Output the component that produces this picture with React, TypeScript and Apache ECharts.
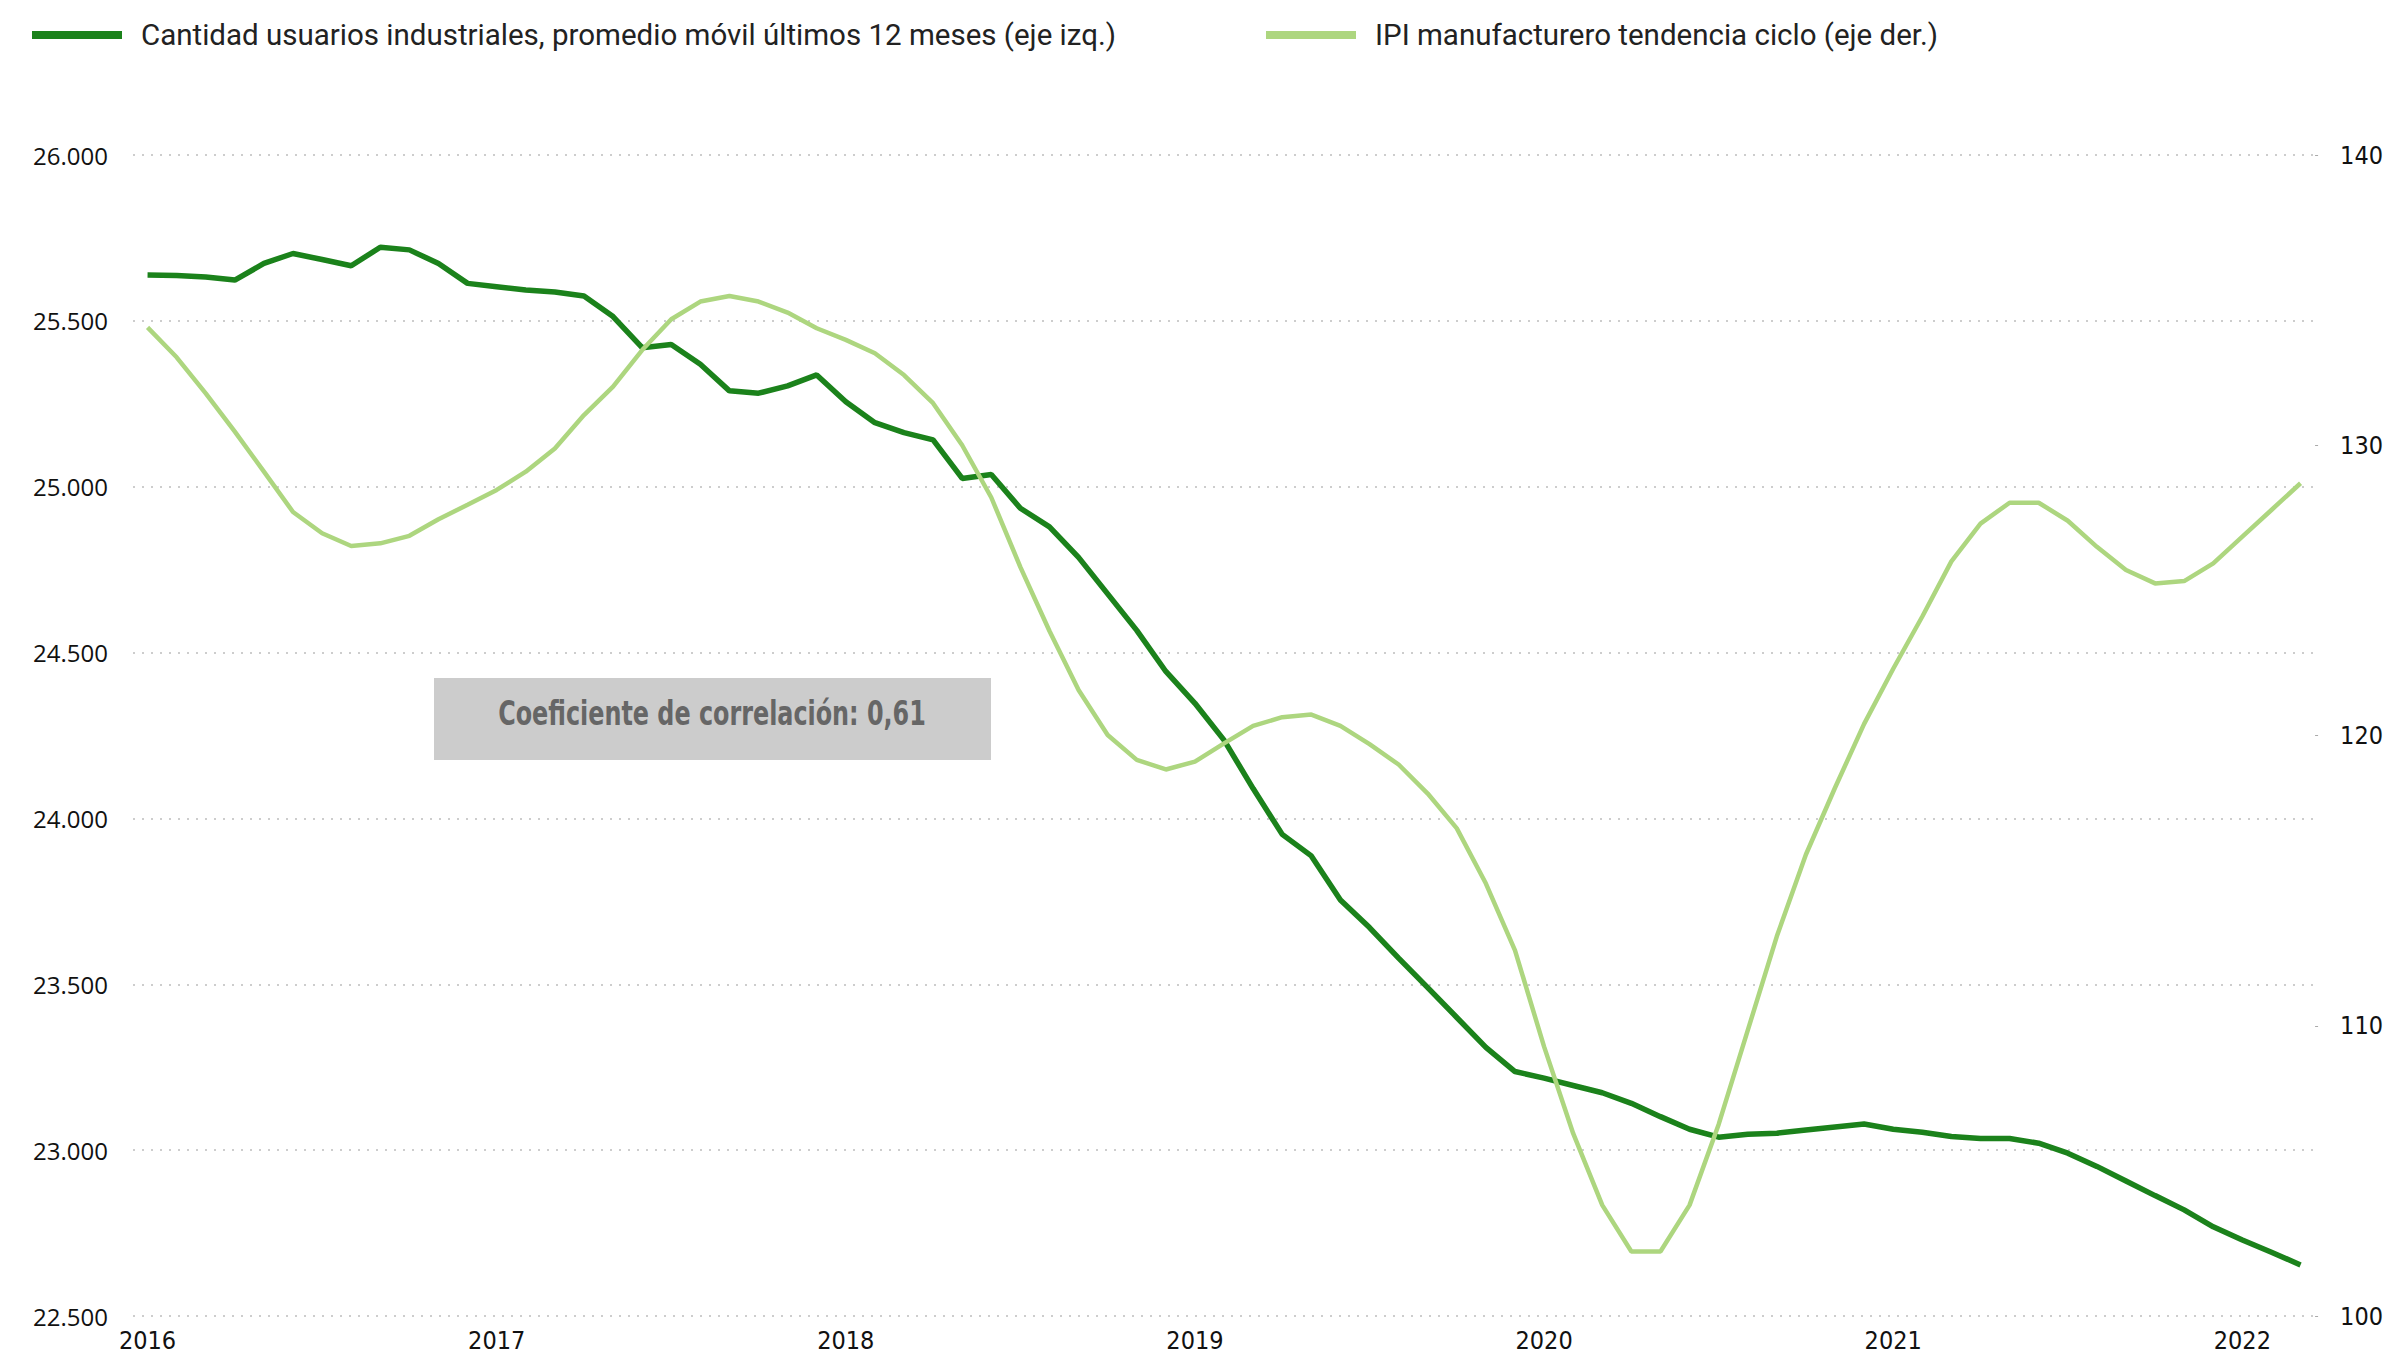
import React, { useEffect, useRef } from "react";
import * as echarts from "echarts";

const years = ["2016", "2017", "2018", "2019", "2020", "2021", "2022"];
const monthCount = 75;
const categories: string[] = [];
for (let i = 0; i < monthCount; i++) {
  const y = years[Math.floor(i / 12)];
  const m = (i % 12) + 1;
  categories.push(`${y}-${m < 10 ? "0" + m : m}`);
}

const seriesNames = [
  "Cantidad usuarios industriales, promedio móvil últimos 12 meses (eje izq.)",
  "IPI manufacturero tendencia ciclo (eje der.)",
];

const usuarios = [
  25638, 25637, 25632, 25623, 25673, 25703, 25685, 25666, 25722, 25714, 25673, 25613,
  25603, 25593, 25587, 25575, 25513, 25419, 25429, 25369, 25289, 25282, 25304, 25337,
  25256, 25193, 25163, 25141, 25025, 25037, 24935, 24879, 24787, 24677, 24567, 24443,
  24347, 24236, 24090, 23952, 23887, 23754, 23671, 23579, 23490, 23400, 23310, 23237,
  23217, 23195, 23173, 23141, 23101, 23063, 23039, 23048, 23051, 23061, 23070, 23079,
  23063, 23054, 23041, 23035, 23035, 23021, 22991, 22951, 22907, 22863, 22820, 22769,
  22729, 22692, 22654,
];

const ipi = [
  134.06, 133.03, 131.79, 130.47, 129.09, 127.7, 126.97, 126.53, 126.62, 126.88, 127.45, 127.95,
  128.46, 129.09, 129.89, 131.04, 132.02, 133.28, 134.34, 134.95, 135.14, 134.95, 134.57, 134.03,
  133.63, 133.17, 132.42, 131.45, 130.0, 128.2, 125.8, 123.6, 121.57, 120.02, 119.16, 118.83,
  119.1, 119.73, 120.33, 120.63, 120.72, 120.33, 119.7, 119.0, 118.0, 116.8, 114.9, 112.6,
  109.28, 106.29, 103.82, 102.22, 102.22, 103.82, 106.6, 109.84, 113.08, 115.9, 118.2, 120.4,
  122.3, 124.1, 126.0, 127.3, 128.02, 128.02, 127.4, 126.5, 125.7, 125.24, 125.32, 125.93,
  126.85, 127.77, 128.69,
];

const correlationText = "Coeficiente de correlación: 0,61";

const DARK = "#1B821B";
const LIGHT = "#ADD67F";
const NARROW = "'Liberation Sans Narrow', 'DejaVu Sans Condensed', Roboto, sans-serif";

function formatThousands(v: number) {
  return String(Math.round(v)).replace(/\B(?=(\d{3})+(?!\d))/g, ".");
}

export default function App() {
  const ref = useRef<HTMLDivElement>(null);
  useEffect(() => {
    if (!ref.current) return;
    const chart = echarts.init(ref.current, null, { renderer: "svg" });
    chart.setOption({
      animation: false,
      backgroundColor: "#ffffff",
      legend: {
        left: 27,
        top: 15,
        icon: "rect",
        itemWidth: 90,
        itemHeight: 8,
        itemGap: 150,
        data: seriesNames,
        textStyle: {
          fontFamily: "Roboto, sans-serif",
          fontSize: 29.5,
          color: "#222222",
          padding: [0, 0, 0, 14],
        },
      },
      grid: { left: 133, right: 67, top: 155, bottom: 39 },
      xAxis: {
        type: "category",
        data: categories,
        boundaryGap: true,
        axisLine: { show: false },
        axisTick: { show: false },
        splitLine: { show: false },
        axisLabel: {
          interval: (idx: number) => idx % 12 === 0,
          formatter: (v: string) => v.slice(0, 4),
          fontFamily: NARROW,
          fontSize: 25,
          lineHeight: 26,
          color: "#111111",
          margin: 11,
        },
      },
      yAxis: [
        {
          type: "value",
          min: 22500,
          max: 26000,
          interval: 500,
          position: "left",
          axisLine: { show: false },
          axisTick: { show: false },
          axisLabel: {
            formatter: (v: number) => formatThousands(v),
            fontFamily: "'Open Sans', sans-serif",
            fontSize: 24,
            color: "#111111",
            margin: 25,
          },
          splitLine: {
            show: true,
            lineStyle: { color: "#bdbdbd", width: 1.5, type: [2, 7] },
          },
        },
        {
          type: "value",
          min: 100,
          max: 140,
          interval: 10,
          position: "right",
          axisLine: { show: false },
          axisTick: { show: true, length: 3, lineStyle: { color: "#aaaaaa" } },
          axisLabel: {
            fontFamily: NARROW,
            fontSize: 25,
            color: "#111111",
            margin: 25,
          },
          splitLine: { show: false },
        },
      ],
      series: [
        {
          name: seriesNames[0],
          type: "line",
          yAxisIndex: 0,
          data: usuarios,
          symbol: "none",
          lineStyle: { color: DARK, width: 5.5 },
          itemStyle: { color: DARK },
        },
        {
          name: seriesNames[1],
          type: "line",
          yAxisIndex: 1,
          data: ipi,
          symbol: "none",
          lineStyle: { color: LIGHT, width: 4.5 },
          itemStyle: { color: LIGHT },
        },
      ],
      graphic: [
        {
          type: "rect",
          left: 434,
          top: 678,
          shape: { width: 557, height: 82 },
          style: { fill: "#CCCCCC" },
          z: 10,
        },
        {
          type: "text",
          x: 712,
          y: 713,
          scaleX: 0.78,
          z: 11,
          style: {
            text: correlationText,
            fill: "#666666",
            font: `bold 34px ${NARROW}`,
            textAlign: "center",
            textVerticalAlign: "middle",
          },
        },
      ],
    });
    return () => chart.dispose();
  }, []);
  return (
    <div
      ref={ref}
      style={{ position: "fixed", left: 0, top: 0, width: "2386px", height: "1355px" }}
    />
  );
}
